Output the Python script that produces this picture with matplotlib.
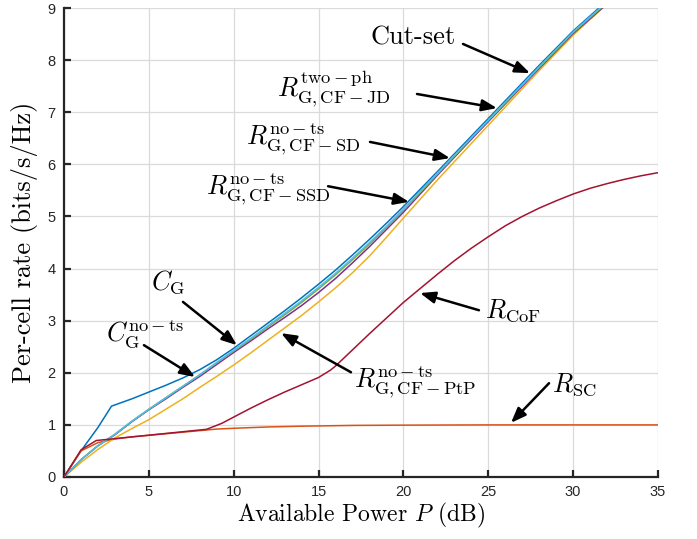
import matplotlib
matplotlib.use("Agg")
import matplotlib.pyplot as plt
import numpy as np

plt.rcParams['mathtext.fontset'] = 'cm'
plt.rcParams['axes.unicode_minus'] = False

# ---------------- data ----------------
P_main = [0, 1, 2, 3, 4, 5, 6, 7, 8, 9, 10, 11, 12, 13, 14, 15, 16, 17, 18, 19, 20,
          22, 24, 26, 28, 30, 32, 35]

P_blue = [0, 1, 2, 2.8, 4, 5, 6, 7, 8, 9, 10, 11, 12, 13, 14, 15, 16, 17, 18, 19, 20,
          22, 24, 26, 28, 30, 32, 35]
C_G = [0, 0.5, 0.95, 1.36, 1.5, 1.63, 1.76, 1.9, 2.06, 2.25, 2.47, 2.71, 2.95, 3.19, 3.44,
       3.7, 3.97, 4.26, 4.56, 4.87, 5.19, 5.86, 6.54, 7.22, 7.9, 8.56, 9.14, 10.2]

C_G_nots = [0, 0.33, 0.6, 0.82, 1.07, 1.3, 1.52, 1.74, 1.96, 2.2, 2.43, 2.66, 2.9, 3.14,
            3.38, 3.64, 3.91, 4.2, 4.5, 4.81, 5.14, 5.83, 6.51, 7.19, 7.87, 8.54, 9.12, 10.15]
R_SD = [0, 0.33, 0.6, 0.82, 1.07, 1.3, 1.52, 1.74, 1.96, 2.19, 2.42, 2.64, 2.88, 3.11,
        3.35, 3.61, 3.88, 4.17, 4.47, 4.79, 5.12, 5.81, 6.5, 7.18, 7.86, 8.53, 9.1, 10.12]
R_SSD = [0, 0.33, 0.6, 0.81, 1.06, 1.29, 1.5, 1.72, 1.93, 2.16, 2.39, 2.61, 2.84, 3.06,
         3.29, 3.54, 3.81, 4.11, 4.42, 4.75, 5.08, 5.79, 6.48, 7.16, 7.84, 8.51, 9.08, 10.1]
R_PtP = [0, 0.28, 0.53, 0.75, 0.93, 1.1, 1.3, 1.5, 1.72, 1.93, 2.15, 2.38, 2.62, 2.86,
         3.1, 3.36, 3.63, 3.92, 4.24, 4.6, 4.97, 5.7, 6.4, 7.1, 7.8, 8.48, 9.08, 10.1]

P_sc = [0, 1, 2, 3, 4, 5, 6, 7, 8, 9, 10, 12, 14, 17, 20, 25, 35]
R_SC = [0, 0.5, 0.66, 0.73, 0.77, 0.8, 0.83, 0.86, 0.89, 0.92, 0.935, 0.96, 0.975, 0.99,
        0.995, 1.0, 1.0]

P_cof = [0, 1, 1.9, 8.4, 9.3, 10, 11, 12, 13, 14, 15, 15.7, 16, 17, 18, 19, 20, 21, 22, 23,
         24, 25, 26, 27, 28, 29, 30, 31, 32, 33, 34, 35]
R_CoF = [0, 0.52, 0.70, 0.915, 1.03, 1.15, 1.32, 1.48, 1.63, 1.77, 1.91, 2.05, 2.13, 2.44,
         2.75, 3.05, 3.35, 3.62, 3.89, 4.15, 4.39, 4.61, 4.82, 5.0, 5.16, 5.3, 5.43, 5.54,
         5.63, 5.71, 5.78, 5.84]

x_ticks = [0, 5, 10, 15, 20, 25, 30, 35]
y_ticks = [0, 1, 2, 3, 4, 5, 6, 7, 8, 9]

# ---------------- figure ----------------
fig = plt.figure(figsize=(6.97, 5.39), dpi=100)
ax = fig.add_axes([64/697, 1-477/539, 594/697, 469/539])

lw = 1.1
ax.plot(P_blue, C_G, color='#0072BD', lw=lw, zorder=3)
ax.plot(P_sc, R_SC, color='#D95319', lw=lw, zorder=3)
ax.plot(P_main, R_PtP, color='#EDB120', lw=lw, zorder=3)
ax.plot(P_main, R_SSD, color='#7E2F8E', lw=lw, zorder=3)
ax.plot(P_main, R_SD, color='#77AC30', lw=lw, zorder=3)
ax.plot(P_main, C_G_nots, color='#4DBEEE', lw=lw, zorder=3)
ax.plot(P_cof, R_CoF, color='#A2142F', lw=lw, zorder=3)

ax.set_xlim(0, 35)
ax.set_ylim(0, 9)
ax.set_xticks(x_ticks)
ax.set_yticks(y_ticks)
ax.set_xticklabels([str(t) for t in x_ticks], fontfamily='Liberation Sans', fontsize=10.5)
ax.set_yticklabels([str(t) for t in y_ticks], fontfamily='Liberation Sans', fontsize=10.5)

ax.grid(True, color='#dadada', lw=0.9)
ax.set_axisbelow(True)
for s in ['top', 'right']:
    ax.spines[s].set_visible(False)
for s in ['left', 'bottom']:
    ax.spines[s].set_color('#262626')
    ax.spines[s].set_linewidth(1.6)
ax.tick_params(direction='in', length=5, width=1.6, color='#262626', labelcolor='#262626', pad=6)

ax.set_xlabel('Available Power $P$ (dB)', fontfamily='cmr10', fontsize=17, labelpad=1)
ax.set_ylabel('Per-cell rate (bits/s/Hz)', fontfamily='cmr10', fontsize=19, labelpad=7)

# ---------------- annotations ----------------
aprops = dict(arrowstyle='-|>,head_length=0.9,head_width=0.35', lw=1.8, color='black',
              shrinkA=0, shrinkB=0)

def arrow(tail, tip):
    ax.annotate('', xy=tip, xytext=tail, arrowprops=aprops, zorder=5)

fs = 19
ax.text(23.10, 8.44, 'Cut-set', fontfamily='cmr10', fontsize=fs, ha='right', va='center')
arrow((23.51, 8.31), (27.46, 7.75))

ax.text(12.55, 7.45, r'$R^{\mathrm{two-ph}}_{\mathrm{G,CF-JD}}$', fontsize=fs, ha='left', va='center')
arrow((20.80, 7.35), (25.51, 7.08))

ax.text(10.72, 6.49, r'$R^{\mathrm{no-ts}}_{\mathrm{G,CF-SD}}$', fontsize=fs, ha='left', va='center')
arrow((18.03, 6.43), (22.74, 6.12))

ax.text(8.37, 5.53, r'$R^{\mathrm{no-ts}}_{\mathrm{G,CF-SSD}}$', fontsize=fs, ha='left', va='center')
arrow((15.56, 5.58), (20.33, 5.28))

ax.text(5.15, 3.74, r'$C_{\mathrm{G}}$', fontsize=fs, ha='left', va='center')
arrow((7.01, 3.36), (10.19, 2.53))

ax.text(2.48, 2.72, r'$C^{\mathrm{no-ts}}_{\mathrm{G}}$', fontsize=fs, ha='left', va='center')
arrow((4.71, 2.53), (7.72, 1.92))

ax.text(24.82, 3.20, r'$R_{\mathrm{CoF}}$', fontsize=fs, ha='left', va='center')
arrow((24.45, 3.20), (20.98, 3.53))

ax.text(17.10, 1.82, r'$R^{\mathrm{no-ts}}_{\mathrm{G,CF-PtP}}$', fontsize=fs, ha='left', va='center')
arrow((16.91, 2.01), (12.79, 2.76))

ax.text(28.76, 1.77, r'$R_{\mathrm{SC}}$', fontsize=fs, ha='left', va='center')
arrow((28.58, 1.80), (26.34, 1.04))

fig.savefig('out.png', dpi=100)
